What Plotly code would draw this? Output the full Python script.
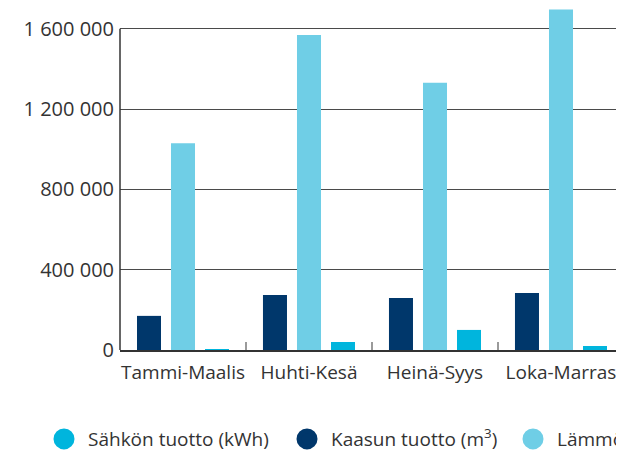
import plotly.graph_objects as go

# ---- data ----
categories = ["Tammi-Maalis", "Huhti-Kesä", "Heinä-Syys", "Loka-Marras"]
kaasun = [170000, 274000, 259000, 284000]       # Kaasun tuotto (m3)
lammon = [1030000, 1570000, 1332000, 1697000]   # Lämmön tuotto (kWh)
sahkon = [3000, 40000, 100000, 20000]           # Sähkön tuotto (kWh)

y_tickvals = [0, 400000, 800000, 1200000, 1600000]
y_ticktext = ["0", "400 000", "800 000", "1 200 000", "1 600 000"]
y_axis_top = 1600000
y_range_top = 1704000

name_sahkon = "Sähkön tuotto (kWh)"
name_kaasun = "Kaasun tuotto (m<sup>3</sup>)"
name_lammon = "Lämmön tuotto (kWh)"

# ---- style ----
C_NAVY = "#00376b"
C_LIGHT = "#6fcee6"
C_CYAN = "#00b5dd"
TXT = "#333333"
FONT = "Open Sans"

# page body adds an 8px margin
W, H = 616, 442
ML, MR = 112, 0
PLOT_BOTTOM = 342
MB = H - PLOT_BOTTOM
PW = W - ML - MR
PX_PER_UNIT = 320.7 / y_axis_top
PH = PX_PER_UNIT * y_range_top
MT = H - MB - PH

fig = go.Figure()
for vals, col in [(kaasun, C_NAVY), (lammon, C_LIGHT), (sahkon, C_CYAN)]:
    fig.add_trace(go.Bar(x=categories, y=vals, marker=dict(color=col, line=dict(width=0)),
                         showlegend=False, hoverinfo="skip"))

# legend entries (circle symbols)
for nm, col, lw in [(name_sahkon, C_CYAN, 190), (name_kaasun, C_NAVY, 173), (name_lammon, C_LIGHT, 75)]:
    fig.add_trace(go.Scatter(x=[None], y=[None], mode="markers", name=nm,
                             marker=dict(symbol="circle", size=16, color=col,
                                         line=dict(color=col, width=5)),
                             legendwidth=lw))

# y axis line only up to the top tick
fig.add_shape(type="line", xref="paper", yref="y", x0=0, x1=0, y0=0, y1=y_axis_top,
              line=dict(color="#333333", width=1.5), layer="above")

legend_left_px = 32
legend_top_px = 412
fig.update_layout(
    width=W, height=H,
    margin=dict(l=ML, r=MR, t=MT, b=MB, autoexpand=False),
    paper_bgcolor="white", plot_bgcolor="white",
    font=dict(family=FONT, size=19, color=TXT),
    barmode="group", bargap=0.19, bargroupgap=0.294,
    showlegend=True,
    legend=dict(orientation="h", x=(legend_left_px - ML) / PW, xanchor="left",
                y=1 - (legend_top_px - MT) / PH, yanchor="top",
                itemwidth=38, font=dict(size=19, color=TXT),
                bgcolor="rgba(0,0,0,0)", traceorder="normal"),
    xaxis=dict(type="category", range=[-0.5, 3.5], showgrid=False,
               showline=True, linecolor="#333333", linewidth=2,
               ticks="inside", tickson="boundaries", ticklen=8, tickwidth=2,
               tickcolor="#9a9a9a", ticklabelstandoff=4, tickangle=0,
               tickfont=dict(size=19, color=TXT)),
    yaxis=dict(range=[0, y_range_top], tickvals=y_tickvals, ticktext=y_ticktext,
               showgrid=True, gridcolor="#4a4a4a", gridwidth=1.3,
               zeroline=False, showline=False,
               ticks="", ticklabelstandoff=5,
               tickfont=dict(size=20, color=TXT)),
)

fig.write_html("out.html")
